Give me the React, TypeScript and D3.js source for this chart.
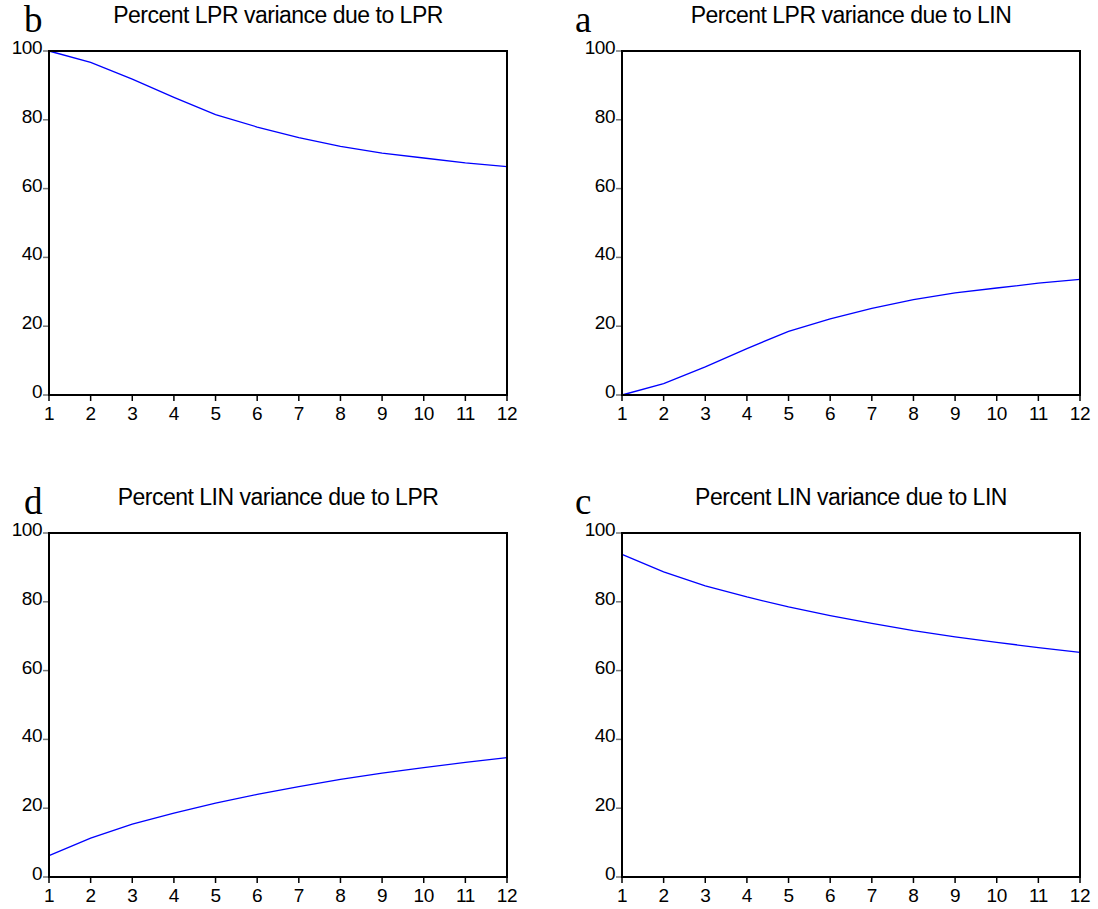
import React from 'react';
import * as d3 from 'd3';

// forecast horizons (periods)
const horizons = [1, 2, 3, 4, 5, 6, 7, 8, 9, 10, 11, 12];
const yTicks = [0, 20, 40, 60, 80, 100];

// variance decomposition, percent
const lprDueLpr = [100, 96.7, 91.8, 86.5, 81.5, 77.9, 74.8, 72.3, 70.3, 68.9, 67.5, 66.4];
const lprDueLin = [0, 3.3, 8.2, 13.5, 18.5, 22.1, 25.2, 27.7, 29.7, 31.1, 32.5, 33.6];
const linDueLpr = [6.2, 11.3, 15.4, 18.6, 21.5, 24.0, 26.3, 28.4, 30.2, 31.8, 33.3, 34.7];
const linDueLin = [93.8, 88.7, 84.6, 81.4, 78.5, 76.0, 73.7, 71.6, 69.8, 68.2, 66.7, 65.3];

const panelTitles = [
    'Percent LPR variance due to LPR',
    'Percent LPR variance due to LIN',
    'Percent LIN variance due to LPR',
    'Percent LIN variance due to LIN'
];
const panelLetters = ['b', 'a', 'd', 'c'];
const panelSeries = [lprDueLpr, lprDueLin, linDueLpr, linDueLin];

const sans = '"Liberation Sans", Arial, sans-serif';

function Panel({ left, top, width, height, title, letter, letterX, values }) {
    const x = d3.scaleLinear().domain([1, 12]).range([left, left + width]);
    const y = d3.scaleLinear().domain([0, 100]).range([top + height, top]);
    const line = d3
        .line<number>()
        .x((d, i) => x(horizons[i]))
        .y((d) => y(d));
    const bottom = top + height;

    return (
        <g>
            <text
                x={letterX}
                y={top - 19}
                fontFamily='"Liberation Serif", "Times New Roman", serif'
                fontSize={37}
            >
                {letter}
            </text>
            <text
                x={left + width / 2}
                y={top - 28}
                textAnchor="middle"
                fontFamily={sans}
                fontSize={23}
                letterSpacing={-0.5}
            >
                {title}
            </text>
            {yTicks.map((t) => (
                <g key={'y' + t}>
                    <line
                        x1={left - 6}
                        x2={left}
                        y1={y(t)}
                        y2={y(t)}
                        stroke="#777"
                        strokeWidth={1.5}
                    />
                    <text
                        x={left - 7}
                        y={y(t) + 3}
                        textAnchor="end"
                        fontFamily={sans}
                        fontSize={19}
                        letterSpacing={-0.5}
                    >
                        {t}
                    </text>
                </g>
            ))}
            {horizons.map((h) => (
                <g key={'x' + h}>
                    <line
                        x1={x(h)}
                        x2={x(h)}
                        y1={bottom}
                        y2={bottom + 6}
                        stroke="#000"
                        strokeWidth={1.5}
                    />
                    <text
                        x={x(h)}
                        y={bottom + 25}
                        textAnchor="middle"
                        fontFamily={sans}
                        fontSize={19}
                        letterSpacing={-0.4}
                    >
                        {h}
                    </text>
                </g>
            ))}
            <path d={line(values) || ''} fill="none" stroke="#0000ff" strokeWidth={1.3} />
            <rect
                x={left}
                y={top}
                width={width}
                height={height}
                fill="none"
                stroke="#000"
                strokeWidth={2}
            />
        </g>
    );
}

export default function App() {
    const lefts = [49, 622];
    const letterXs = [24, 575];
    const tops = [51, 533];
    const w = 458;
    const h = 344;

    return (
        <svg
            width={1098}
            height={909}
            style={{ position: 'absolute', left: 0, top: 0, background: '#fff' }}
        >
            {panelSeries.map((values, i) => (
                <Panel
                    key={i}
                    left={lefts[i % 2]}
                    letterX={letterXs[i % 2]}
                    top={tops[Math.floor(i / 2)]}
                    width={w}
                    height={h}
                    title={panelTitles[i]}
                    letter={panelLetters[i]}
                    values={values}
                />
            ))}
        </svg>
    );
}
